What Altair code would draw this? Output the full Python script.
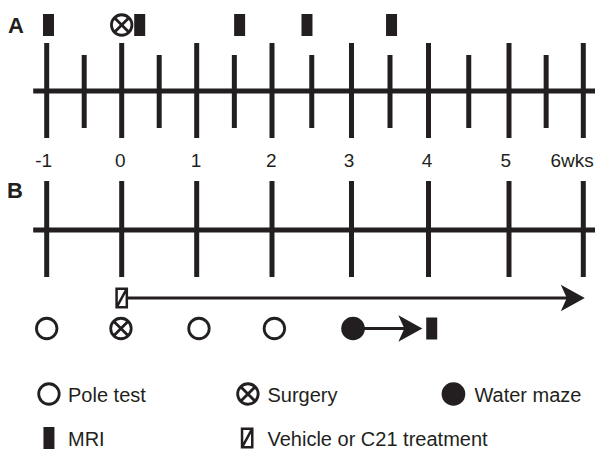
import altair as alt
import pandas as pd

INK = "#231f20"

# ---- timeline calibration (weeks -> horizontal position) ----
major_weeks = [-1, 0, 1, 2, 3, 4, 5, 6]
major_pos = [38.7, 113.7, 188.7, 264.0, 343.5, 420.5, 501.0, 575.3]
minor_weeks = [-0.5, 0.5, 1.5, 2.5, 3.5, 4.5, 5.5]
tick_labels = ["-1", "0", "1", "2", "3", "4", "5", "6wks"]
label_weeks = [-1.04, -0.02, 0.99, 1.99, 2.97, 3.98, 4.96, 5.85]
line_extent = [-1.18, 6.16]

# ---- vertical levels ----
a_marks_y = 25
a_axis_y = 91
a_major_span = [43, 138]
a_minor_span = [55, 128]
label_base_y = 167
b_axis_y = 230
b_major_span = [181, 277]
treat_y = 298
events_y = 328.5
legend_sym_y = [394, 438]
legend_txt_y = [402, 446]

# ---- events ----
mri_a_weeks = [-0.976, 0.24, 1.57, 2.44, 3.52]
surgery_a_weeks = [0.0]
pole_weeks = [-1.0, 1.03, 2.03]
surgery_b_weeks = [-0.01]
water_weeks = [3.02]
mri_b_weeks = [4.04]
treat_weeks = [0.0]
treat_arrow = [0.0, 5.9, 6.02]   # start, line end, tip
water_arrow = [3.02, 3.85, 3.92]

# ---- panel letters ----
letters = ["A", "B"]
letter_weeks = [-1.516, -1.529]
letter_base_y = [33, 198]

# ---- legend ----
legend_kinds = ["pole", "surgery", "water", "mri", "treat"]
legend_sym_weeks = [-0.97, 1.68, 4.31, -0.97, 1.67]
legend_sym_row = [0, 0, 0, 1, 1]
legend_texts = ["Pole test", "Surgery", "Water maze", "MRI", "Vehicle or C21 treatment"]
legend_txt_weeks = [-0.716, 1.94, 4.57, -0.716, 1.94]

xscale = alt.Scale(domain=major_weeks, range=major_pos)
yscale = alt.Scale(domain=[8, 452], range=[0, 444])


def X(f):
    return alt.X(f, type="quantitative", scale=xscale, axis=None)


def Y(f):
    return alt.Y(f, type="quantitative", scale=yscale, axis=None)


# shapes
RECT = "M-0.5,-1H0.5V1H-0.5Z"
CIRC = ("M1,0C1,0.5523,0.5523,1,0,1C-0.5523,1,-1,0.5523,-1,0"
        "C-1,-0.5523,-0.5523,-1,0,-1C0.5523,-1,1,-0.5523,1,0Z")
SURG = CIRC + "M-0.707,-0.707L0.707,0.707M-0.707,0.707L0.707,-0.707"
TREAT = "M-0.55,-1H0.55V1H-0.55ZM-0.55,1L0.55,-1"
HEAD = "M0,0L-2,-1.1L-1.5,0L-2,1.1Z"

# ---- data tables ----
h_lines = pd.DataFrame({"x1": [line_extent[0]] * 2, "x2": [line_extent[1]] * 2,
                        "y": [a_axis_y, b_axis_y]})
v_ticks = pd.DataFrame(
    [{"w": w, "y1": a_major_span[0], "y2": a_major_span[1]} for w in major_weeks]
    + [{"w": w, "y1": a_minor_span[0], "y2": a_minor_span[1]} for w in minor_weeks]
    + [{"w": w, "y1": b_major_span[0], "y2": b_major_span[1]} for w in major_weeks]
)
labels_df = pd.DataFrame({"w": label_weeks, "t": tick_labels, "y": [label_base_y] * len(tick_labels)})
letters_df = pd.DataFrame({"w": letter_weeks, "t": letters, "y": letter_base_y})

arrows_df = pd.DataFrame({"x1": [treat_arrow[0], water_arrow[0]],
                          "x2": [treat_arrow[1], water_arrow[1]],
                          "y": [treat_y, events_y]})
heads_df = pd.DataFrame({"w": [treat_arrow[2], water_arrow[2]], "y": [treat_y, events_y]})

rows = []
for w in mri_a_weeks:
    rows.append({"kind": "mri", "w": w, "y": a_marks_y})
for w in surgery_a_weeks:
    rows.append({"kind": "surgery", "w": w, "y": a_marks_y})
for w in pole_weeks:
    rows.append({"kind": "pole", "w": w, "y": events_y})
for w in surgery_b_weeks:
    rows.append({"kind": "surgery", "w": w, "y": events_y})
for w in water_weeks:
    rows.append({"kind": "water", "w": w, "y": events_y})
for w in mri_b_weeks:
    rows.append({"kind": "mri", "w": w, "y": events_y})
for w in treat_weeks:
    rows.append({"kind": "treat", "w": w, "y": treat_y})
for k, w, r in zip(legend_kinds, legend_sym_weeks, legend_sym_row):
    rows.append({"kind": k, "w": w, "y": legend_sym_y[r]})
sym_df = pd.DataFrame(rows)

leg_txt_df = pd.DataFrame({"w": legend_txt_weeks, "t": legend_texts,
                           "y": [legend_txt_y[r] for r in legend_sym_row]})

# ---- layers ----
hl = alt.Chart(h_lines).mark_rule(color=INK, strokeWidth=5).encode(x=X("x1"), x2="x2", y=Y("y"))
vt = alt.Chart(v_ticks).mark_rule(color=INK, strokeWidth=5).encode(x=X("w"), y=Y("y1"), y2="y2")
lab = alt.Chart(labels_df).mark_text(font="Liberation Sans", fontSize=19, color=INK,
                                     align="center", baseline="alphabetic").encode(
    x=X("w"), y=Y("y"), text="t:N")
let = alt.Chart(letters_df).mark_text(font="Liberation Sans", fontSize=22, fontWeight="bold",
                                      color=INK, align="left", baseline="alphabetic").encode(
    x=X("w"), y=Y("y"), text="t:N")
arr = alt.Chart(arrows_df).mark_rule(color=INK, strokeWidth=3).encode(x=X("x1"), x2="x2", y=Y("y"))
hd = alt.Chart(heads_df).mark_point(shape=HEAD, size=576, filled=True, color=INK,
                                    opacity=1, strokeWidth=0).encode(x=X("w"), y=Y("y"))


def sym(kind, **props):
    return alt.Chart(sym_df).transform_filter(alt.datum.kind == kind).mark_point(
        opacity=1, **props).encode(x=X("w"), y=Y("y"))


mri = sym("mri", shape=RECT, size=484, filled=True, color=INK, strokeWidth=0)
surg = sym("surgery", shape=SURG, size=420, filled=False, color=INK, strokeWidth=2.8)
pole = sym("pole", shape="circle", size=420, filled=False, color=INK, strokeWidth=2.8)
water = sym("water", shape="circle", size=560, filled=True, color=INK, strokeWidth=0)
treat = sym("treat", shape=TREAT, size=346, filled=True, fill="white", stroke=INK,
            strokeWidth=2.5)

ltxt = alt.Chart(leg_txt_df).mark_text(font="Liberation Sans", fontSize=20, color=INK,
                                       align="left", baseline="alphabetic").encode(
    x=X("w"), y=Y("y"), text="t:N")

chart = alt.layer(hl, vt, lab, let, arr, hd, mri, surg, pole, water, treat, ltxt).properties(
    width=587, height=444, padding=0, autosize=alt.AutoSizeParams(type="none"),
    background="white"
).configure_view(stroke=None)

chart.save("out.html", embed_options={"renderer": "svg", "actions": False})
